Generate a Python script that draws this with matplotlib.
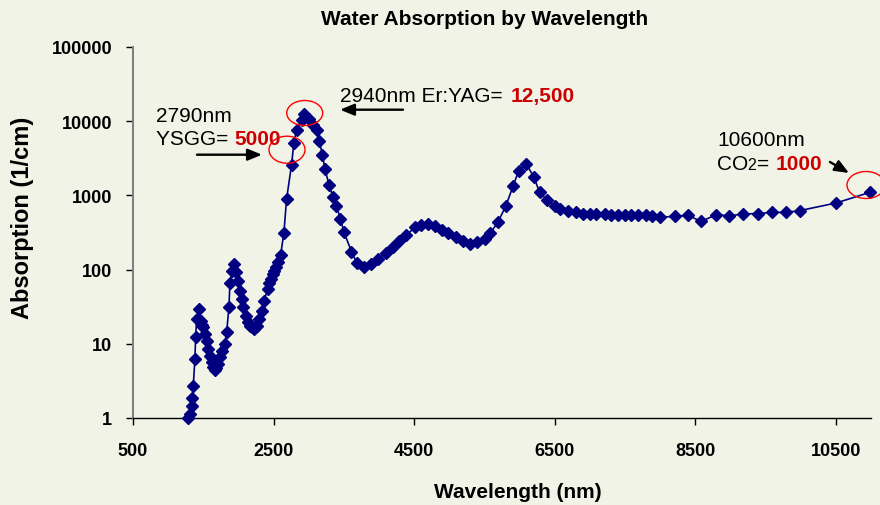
#Packages

import matplotlib
matplotlib.use("Agg")
from matplotlib import pyplot as plt
from matplotlib.patches import Ellipse, FancyArrowPatch
from matplotlib.transforms import IdentityTransform
from matplotlib.ticker import NullLocator


#Data

wavelength = [1286, 1310, 1334, 1343, 1357, 1381, 1391, 1405, 1438, 1467,
              1485, 1500, 1523, 1548, 1570, 1595, 1619, 1641, 1666, 1685,
              1704, 1737, 1770, 1808, 1832, 1865, 1879, 1912, 1940, 1960,
              1997, 2021, 2045, 2068, 2102, 2139, 2165, 2187, 2225, 2258,
              2291, 2329, 2366, 2415, 2440, 2462, 2490, 2509, 2540, 2565,
              2600, 2646, 2685, 2756, 2789, 2827, 2898, 2940, 3000, 3060,
              3111, 3150, 3196, 3229, 3290, 3347, 3395, 3452, 3499, 3608,
              3688, 3787, 3893, 3987, 4096, 4200, 4285, 4390, 4508, 4604,
              4698, 4793, 4902, 4982, 5091, 5195, 5290, 5394, 5503, 5585,
              5693, 5802, 5906, 5987, 6096, 6205, 6285, 6389, 6499, 6570,
              6688, 6807, 6901, 6996, 7091, 7209, 7305, 7399, 7494, 7589,
              7683, 7792, 7887, 7991, 8205, 8394, 8584, 8797, 8986, 9175,
              9389, 9593, 9792, 9991, 10503, 10986]

absorption = [1.0, 1.13, 1.46, 1.84, 2.7, 6.2, 12.2, 21.6, 29.4, 20.5,
              18, 16.6, 13.5, 11.0, 8.5, 6.9, 5.6, 4.8, 4.5, 4.7,
              5.3, 6.6, 8.1, 9.9, 14.3, 31, 67, 96, 119, 92,
              71, 52, 40, 31, 24, 19.5, 17.5, 16.6, 15.8, 17.2,
              21.6, 28, 38, 55, 65, 75, 86, 96, 110, 125,
              158, 307, 890, 2600, 5100, 7700, 10500, 12500, 10800, 9000,
              7600, 5400, 3500, 2300, 1380, 940, 715, 480, 325, 175,
              121, 109, 119, 139, 167, 203, 245, 292, 370, 400,
              410, 390, 343, 307, 272, 245, 220, 238, 258, 310,
              440, 710, 1320, 2150, 2660, 1750, 1100, 870, 730, 650,
              610, 590, 565, 570, 565, 555, 550, 550, 550, 550,
              550, 545, 520, 510, 520, 540, 445, 550, 530, 560,
              570, 590, 590, 625, 790, 1100]

x_ticks = [500, 2500, 4500, 6500, 8500, 10500]
y_ticks = [1, 10, 100, 1000, 10000, 100000]
y_tick_labels = ["1", "10", "100", "1000", "10000", "100000"]


#Figure

plt.rcParams['font.family'] = ['Liberation Sans', 'DejaVu Sans']

W, H = 880, 506
bg = '#f0f3e6'
navy = '#000080'
red = '#cc0000'

fig = plt.figure(figsize=(W / 100, H / 100), dpi=100)
fig.patch.set_facecolor(bg)

ax = fig.add_axes([133 / W, 1 - 419 / H, (871 - 133) / W, (419 - 48) / H])
ax.set_facecolor(bg)
ax.plot(wavelength, absorption, color=navy, lw=1.2, marker='D', ms=6,
        mfc=navy, mec=navy, clip_on=False, zorder=3)

ax.set_yscale('log')
ax.set_xlim(500, 11000)
ax.set_ylim(1, 100000)
ax.set_xticks(x_ticks)
ax.set_xticklabels([str(t) for t in x_ticks])
ax.set_yticks(y_ticks)
ax.set_yticklabels(y_tick_labels)
ax.yaxis.set_minor_locator(NullLocator())
ax.xaxis.set_minor_locator(NullLocator())

ax.spines['top'].set_visible(False)
ax.spines['right'].set_visible(False)
ax.spines['left'].set_color('#808080')
ax.spines['left'].set_linewidth(1.5)
ax.spines['bottom'].set_color('black')
ax.spines['bottom'].set_linewidth(1.0)
ax.tick_params(axis='x', direction='out', length=5, width=1, pad=12, labelsize=13)
ax.tick_params(axis='y', direction='out', length=5, width=1, pad=10, labelsize=13)
for lab in ax.get_xticklabels() + ax.get_yticklabels():
    lab.set_fontweight('bold')


#Texts, in pixels measured from the top-left corner

def put(x, y, s, **kw):
    fig.text(x, H - y, s, transform=IdentityTransform(), **kw)

put(485, 20, "Water Absorption by Wavelength", ha='center', va='center',
    fontsize=15, fontweight='bold')
put(518, 493, "Wavelength (nm)", ha='center', va='center',
    fontsize=15, fontweight='bold')
put(23, 218, "Absorption (1/cm)", ha='center', va='center', rotation=90,
    fontsize=17, fontweight='bold')

put(340, 101.7, "2940nm Er:YAG= ", fontsize=15, va='baseline')
put(511, 101.7, "12,500", fontsize=15, va='baseline', color=red, fontweight='bold')
put(156, 121.7, "2790nm", fontsize=15, va='baseline')
put(156, 145, "YSGG= ", fontsize=15, va='baseline')
put(234, 145, "5000", fontsize=15, va='baseline', color=red, fontweight='bold')
put(717, 145.7, "10600nm", fontsize=15, va='baseline')
put(717, 170, "CO", fontsize=15, va='baseline')
put(747, 170, "2", fontsize=11.5, va='baseline')
put(757, 170, "= ", fontsize=15, va='baseline')
put(776, 170, "1000", fontsize=15, va='baseline', color=red, fontweight='bold')


#Arrows and circles

def arrow(x0, y0, x1, y1):
    fig.add_artist(FancyArrowPatch((x0, H - y0), (x1, H - y1),
                                   transform=IdentityTransform(),
                                   arrowstyle='-|>,head_length=0.85,head_width=0.35',
                                   mutation_scale=10, lw=1.7, color='black',
                                   shrinkA=0, shrinkB=0))

arrow(403, 110.7, 340, 110.7)
arrow(197, 155.7, 262, 155.7)
arrow(830, 163, 849, 174)

for cx, cy, w, h in [(304.7, 114, 36, 25), (287, 150.7, 36, 27), (866, 186, 38, 27)]:
    fig.add_artist(Ellipse((cx, H - cy), w, h, transform=IdentityTransform(),
                           fill=False, ec='red', lw=1.0))

fig.savefig("out.png", dpi=100, facecolor=bg)
